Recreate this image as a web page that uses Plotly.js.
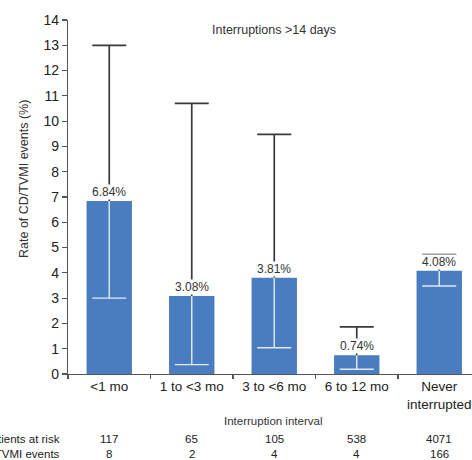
<!DOCTYPE html>
<html>
<head>
<meta charset="utf-8">
<script src="https://cdn.plot.ly/plotly-3.0.1.min.js"></script>
<style>html,body{margin:0;padding:0;background:#fff;}#chart{width:472px;height:460px;}</style>
</head>
<body>
<div id="chart"></div>
<script>
var categories = ['<1 mo', '1 to <3 mo', '3 to <6 mo', '6 to 12 mo', 'Never<br>interrupted'];
var rates = [6.84, 3.08, 3.81, 0.74, 4.08];
var upperCI = [13.0, 10.7, 9.48, 1.86, 4.72];
var lowerCI = [3.0, 0.37, 1.04, 0.19, 3.48];
var patientsAtRisk = ['117', '65', '105', '538', '4071'];
var cdEvents = ['8', '2', '4', '4', '166'];
var rowLabels = ['Patients at risk', 'CD/TVMI events'];
var yTicks = [0,1,2,3,4,5,6,7,8,9,10,11,12,13,14];

var FONT = 'Liberation Sans, Arial, sans-serif';
var BLUE = '#4a7cc0';
var GRAY = '#3a3a3a';
var zeros = rates.map(function(){return 0;});

var traces = [
  {type:'bar', x:categories, y:rates, width:0.55, marker:{color:'rgba(0,0,0,0)'},
   error_y:{type:'data', symmetric:false,
     array:upperCI.map(function(u,i){return u-rates[i];}),
     arrayminus:rates.map(function(r,i){return r-lowerCI[i];}),
     color:GRAY, thickness:1.7, width:17}, hoverinfo:'skip', showlegend:false},
  {type:'bar', x:categories, y:rates, width:0.55, marker:{color:BLUE, line:{width:0}}, showlegend:false, hoverinfo:'skip'},
  {type:'scatter', mode:'markers', x:categories, y:rates, marker:{size:0.1, color:'rgba(0,0,0,0)'},
   error_y:{type:'data', symmetric:false, array:zeros,
     arrayminus:rates.map(function(r,i){return r-lowerCI[i];}),
     color:'rgba(235,240,248,0.95)', thickness:1.4, width:0}, hoverinfo:'skip', showlegend:false},
  {type:'scatter', mode:'markers', x:categories, y:lowerCI, marker:{size:0.1, color:'rgba(0,0,0,0)'},
   error_y:{type:'data', symmetric:true, array:zeros,
     color:'rgba(235,240,248,0.95)', thickness:1.4, width:17}, hoverinfo:'skip', showlegend:false}
];

var annotations = [];
rates.forEach(function(r,i){
  annotations.push({xref:'x', yref:'y', x:categories[i], y:r, xanchor:'center', yanchor:'bottom', yshift:1,
    text:r.toFixed(2)+'%', showarrow:false, bgcolor:'#ffffff', borderpad:0,
    font:{family:FONT, size:12, color:'#333'}});
});
function px2x(p){return (p-68)/404;}
function py2y(p){return (374-p)/354;}
annotations.push({xref:'paper', yref:'paper', x:px2x(273.5), y:py2y(30), xanchor:'center', yanchor:'middle',
  text:'Interruptions >14 days', showarrow:false, font:{family:FONT, size:12.5, color:'#333'}});
annotations.push({xref:'paper', yref:'paper', x:px2x(273), y:py2y(421), xanchor:'center', yanchor:'middle',
  text:'Interruption interval', showarrow:false, font:{family:FONT, size:11.5, color:'#333'}});
annotations.push({xref:'paper', yref:'paper', x:px2x(24), y:py2y(179), xanchor:'center', yanchor:'middle',
  text:'Rate of CD/TVMI events (%)', textangle:-90, showarrow:false, font:{family:FONT, size:12.5, color:'#333'}});
[patientsAtRisk, cdEvents].forEach(function(row, r){
  var yy = r === 0 ? 439 : 454;
  annotations.push({xref:'paper', yref:'paper', x:px2x(62), y:py2y(yy), xanchor:'right', yanchor:'middle',
    text:rowLabels[r], showarrow:false, font:{family:FONT, size:11.5, color:'#222'}});
  row.forEach(function(v,i){
    annotations.push({xref:'x', yref:'paper', x:categories[i], y:py2y(yy), xanchor:'center', yanchor:'middle',
      text:v, showarrow:false, font:{family:FONT, size:11.5, color:'#222'}});
  });
});

var layout = {
  width:472, height:460,
  margin:{l:68, r:0, t:20, b:86, pad:0},
  paper_bgcolor:'#fff', plot_bgcolor:'#fff',
  barmode:'overlay', showlegend:false,
  xaxis:{type:'category', range:[-0.5, 4.397], showgrid:false, zeroline:false,
    showline:true, linecolor:'#555', linewidth:1.2,
    ticks:'outside', tickson:'boundaries', ticklen:4, tickcolor:'#555', tickwidth:1.2,
    tickfont:{family:FONT, size:13.5, color:'#222'}, fixedrange:true},
  yaxis:{range:[0,14], tickvals:yTicks, ticktext:yTicks.map(String), showgrid:false, zeroline:false,
    showline:true, linecolor:'#555', linewidth:1.2,
    ticks:'outside', ticklen:5, tickcolor:'#555', tickwidth:1.2,
    tickfont:{family:FONT, size:14, color:'#222'}, fixedrange:true},
  annotations:annotations
};

Plotly.newPlot('chart', traces, layout, {displayModeBar:false, staticPlot:true});
</script>
</body>
</html>
